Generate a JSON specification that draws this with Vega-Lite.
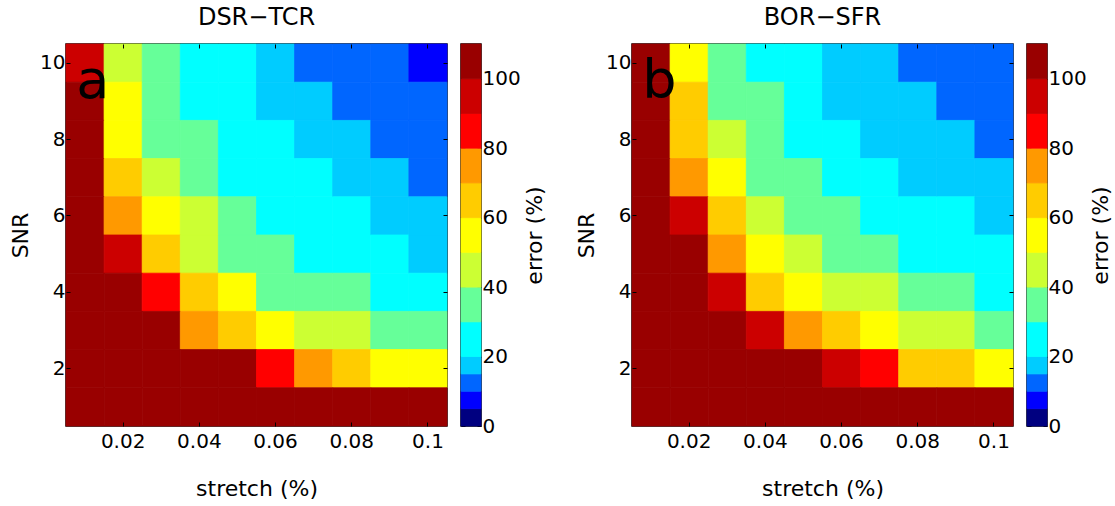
{
  "$schema": "https://vega.github.io/schema/vega-lite/v6.json",
  "background": "white",
  "padding": {"left": 8, "top": 4, "right": 5, "bottom": 5},
  "datasets": {
    "a": [
      {"stretch":0.01,"SNR":10,"error":95},{"stretch":0.02,"SNR":10,"error":45},{"stretch":0.03,"SNR":10,"error":35},{"stretch":0.04,"SNR":10,"error":25},{"stretch":0.05,"SNR":10,"error":25},{"stretch":0.06,"SNR":10,"error":17},{"stretch":0.07,"SNR":10,"error":12},{"stretch":0.08,"SNR":10,"error":12},{"stretch":0.09,"SNR":10,"error":12},{"stretch":0.1,"SNR":10,"error":7},
      {"stretch":0.01,"SNR":9,"error":105},{"stretch":0.02,"SNR":9,"error":55},{"stretch":0.03,"SNR":9,"error":35},{"stretch":0.04,"SNR":9,"error":25},{"stretch":0.05,"SNR":9,"error":25},{"stretch":0.06,"SNR":9,"error":17},{"stretch":0.07,"SNR":9,"error":17},{"stretch":0.08,"SNR":9,"error":12},{"stretch":0.09,"SNR":9,"error":12},{"stretch":0.1,"SNR":9,"error":12},
      {"stretch":0.01,"SNR":8,"error":105},{"stretch":0.02,"SNR":8,"error":55},{"stretch":0.03,"SNR":8,"error":35},{"stretch":0.04,"SNR":8,"error":35},{"stretch":0.05,"SNR":8,"error":25},{"stretch":0.06,"SNR":8,"error":25},{"stretch":0.07,"SNR":8,"error":17},{"stretch":0.08,"SNR":8,"error":17},{"stretch":0.09,"SNR":8,"error":12},{"stretch":0.1,"SNR":8,"error":12},
      {"stretch":0.01,"SNR":7,"error":105},{"stretch":0.02,"SNR":7,"error":65},{"stretch":0.03,"SNR":7,"error":45},{"stretch":0.04,"SNR":7,"error":35},{"stretch":0.05,"SNR":7,"error":25},{"stretch":0.06,"SNR":7,"error":25},{"stretch":0.07,"SNR":7,"error":25},{"stretch":0.08,"SNR":7,"error":17},{"stretch":0.09,"SNR":7,"error":17},{"stretch":0.1,"SNR":7,"error":12},
      {"stretch":0.01,"SNR":6,"error":105},{"stretch":0.02,"SNR":6,"error":75},{"stretch":0.03,"SNR":6,"error":55},{"stretch":0.04,"SNR":6,"error":45},{"stretch":0.05,"SNR":6,"error":35},{"stretch":0.06,"SNR":6,"error":25},{"stretch":0.07,"SNR":6,"error":25},{"stretch":0.08,"SNR":6,"error":25},{"stretch":0.09,"SNR":6,"error":17},{"stretch":0.1,"SNR":6,"error":17},
      {"stretch":0.01,"SNR":5,"error":105},{"stretch":0.02,"SNR":5,"error":95},{"stretch":0.03,"SNR":5,"error":65},{"stretch":0.04,"SNR":5,"error":45},{"stretch":0.05,"SNR":5,"error":35},{"stretch":0.06,"SNR":5,"error":35},{"stretch":0.07,"SNR":5,"error":25},{"stretch":0.08,"SNR":5,"error":25},{"stretch":0.09,"SNR":5,"error":25},{"stretch":0.1,"SNR":5,"error":17},
      {"stretch":0.01,"SNR":4,"error":105},{"stretch":0.02,"SNR":4,"error":105},{"stretch":0.03,"SNR":4,"error":85},{"stretch":0.04,"SNR":4,"error":65},{"stretch":0.05,"SNR":4,"error":55},{"stretch":0.06,"SNR":4,"error":35},{"stretch":0.07,"SNR":4,"error":35},{"stretch":0.08,"SNR":4,"error":35},{"stretch":0.09,"SNR":4,"error":25},{"stretch":0.1,"SNR":4,"error":25},
      {"stretch":0.01,"SNR":3,"error":105},{"stretch":0.02,"SNR":3,"error":105},{"stretch":0.03,"SNR":3,"error":105},{"stretch":0.04,"SNR":3,"error":75},{"stretch":0.05,"SNR":3,"error":65},{"stretch":0.06,"SNR":3,"error":55},{"stretch":0.07,"SNR":3,"error":45},{"stretch":0.08,"SNR":3,"error":45},{"stretch":0.09,"SNR":3,"error":35},{"stretch":0.1,"SNR":3,"error":35},
      {"stretch":0.01,"SNR":2,"error":105},{"stretch":0.02,"SNR":2,"error":105},{"stretch":0.03,"SNR":2,"error":105},{"stretch":0.04,"SNR":2,"error":105},{"stretch":0.05,"SNR":2,"error":105},{"stretch":0.06,"SNR":2,"error":85},{"stretch":0.07,"SNR":2,"error":75},{"stretch":0.08,"SNR":2,"error":65},{"stretch":0.09,"SNR":2,"error":55},{"stretch":0.1,"SNR":2,"error":55},
      {"stretch":0.01,"SNR":1,"error":105},{"stretch":0.02,"SNR":1,"error":105},{"stretch":0.03,"SNR":1,"error":105},{"stretch":0.04,"SNR":1,"error":105},{"stretch":0.05,"SNR":1,"error":105},{"stretch":0.06,"SNR":1,"error":105},{"stretch":0.07,"SNR":1,"error":105},{"stretch":0.08,"SNR":1,"error":105},{"stretch":0.09,"SNR":1,"error":105},{"stretch":0.1,"SNR":1,"error":105}
    ],
    "b": [
      {"stretch":0.01,"SNR":10,"error":105},{"stretch":0.02,"SNR":10,"error":55},{"stretch":0.03,"SNR":10,"error":35},{"stretch":0.04,"SNR":10,"error":25},{"stretch":0.05,"SNR":10,"error":25},{"stretch":0.06,"SNR":10,"error":17},{"stretch":0.07,"SNR":10,"error":17},{"stretch":0.08,"SNR":10,"error":12},{"stretch":0.09,"SNR":10,"error":12},{"stretch":0.1,"SNR":10,"error":12},
      {"stretch":0.01,"SNR":9,"error":105},{"stretch":0.02,"SNR":9,"error":65},{"stretch":0.03,"SNR":9,"error":35},{"stretch":0.04,"SNR":9,"error":35},{"stretch":0.05,"SNR":9,"error":25},{"stretch":0.06,"SNR":9,"error":17},{"stretch":0.07,"SNR":9,"error":17},{"stretch":0.08,"SNR":9,"error":17},{"stretch":0.09,"SNR":9,"error":12},{"stretch":0.1,"SNR":9,"error":12},
      {"stretch":0.01,"SNR":8,"error":105},{"stretch":0.02,"SNR":8,"error":65},{"stretch":0.03,"SNR":8,"error":45},{"stretch":0.04,"SNR":8,"error":35},{"stretch":0.05,"SNR":8,"error":25},{"stretch":0.06,"SNR":8,"error":25},{"stretch":0.07,"SNR":8,"error":17},{"stretch":0.08,"SNR":8,"error":17},{"stretch":0.09,"SNR":8,"error":17},{"stretch":0.1,"SNR":8,"error":12},
      {"stretch":0.01,"SNR":7,"error":105},{"stretch":0.02,"SNR":7,"error":75},{"stretch":0.03,"SNR":7,"error":55},{"stretch":0.04,"SNR":7,"error":35},{"stretch":0.05,"SNR":7,"error":35},{"stretch":0.06,"SNR":7,"error":25},{"stretch":0.07,"SNR":7,"error":25},{"stretch":0.08,"SNR":7,"error":17},{"stretch":0.09,"SNR":7,"error":17},{"stretch":0.1,"SNR":7,"error":17},
      {"stretch":0.01,"SNR":6,"error":105},{"stretch":0.02,"SNR":6,"error":95},{"stretch":0.03,"SNR":6,"error":65},{"stretch":0.04,"SNR":6,"error":45},{"stretch":0.05,"SNR":6,"error":35},{"stretch":0.06,"SNR":6,"error":35},{"stretch":0.07,"SNR":6,"error":25},{"stretch":0.08,"SNR":6,"error":25},{"stretch":0.09,"SNR":6,"error":25},{"stretch":0.1,"SNR":6,"error":17},
      {"stretch":0.01,"SNR":5,"error":105},{"stretch":0.02,"SNR":5,"error":105},{"stretch":0.03,"SNR":5,"error":75},{"stretch":0.04,"SNR":5,"error":55},{"stretch":0.05,"SNR":5,"error":45},{"stretch":0.06,"SNR":5,"error":35},{"stretch":0.07,"SNR":5,"error":35},{"stretch":0.08,"SNR":5,"error":25},{"stretch":0.09,"SNR":5,"error":25},{"stretch":0.1,"SNR":5,"error":25},
      {"stretch":0.01,"SNR":4,"error":105},{"stretch":0.02,"SNR":4,"error":105},{"stretch":0.03,"SNR":4,"error":95},{"stretch":0.04,"SNR":4,"error":65},{"stretch":0.05,"SNR":4,"error":55},{"stretch":0.06,"SNR":4,"error":45},{"stretch":0.07,"SNR":4,"error":45},{"stretch":0.08,"SNR":4,"error":35},{"stretch":0.09,"SNR":4,"error":35},{"stretch":0.1,"SNR":4,"error":25},
      {"stretch":0.01,"SNR":3,"error":105},{"stretch":0.02,"SNR":3,"error":105},{"stretch":0.03,"SNR":3,"error":105},{"stretch":0.04,"SNR":3,"error":95},{"stretch":0.05,"SNR":3,"error":75},{"stretch":0.06,"SNR":3,"error":65},{"stretch":0.07,"SNR":3,"error":55},{"stretch":0.08,"SNR":3,"error":45},{"stretch":0.09,"SNR":3,"error":45},{"stretch":0.1,"SNR":3,"error":35},
      {"stretch":0.01,"SNR":2,"error":105},{"stretch":0.02,"SNR":2,"error":105},{"stretch":0.03,"SNR":2,"error":105},{"stretch":0.04,"SNR":2,"error":105},{"stretch":0.05,"SNR":2,"error":105},{"stretch":0.06,"SNR":2,"error":95},{"stretch":0.07,"SNR":2,"error":85},{"stretch":0.08,"SNR":2,"error":65},{"stretch":0.09,"SNR":2,"error":65},{"stretch":0.1,"SNR":2,"error":55},
      {"stretch":0.01,"SNR":1,"error":105},{"stretch":0.02,"SNR":1,"error":105},{"stretch":0.03,"SNR":1,"error":105},{"stretch":0.04,"SNR":1,"error":105},{"stretch":0.05,"SNR":1,"error":105},{"stretch":0.06,"SNR":1,"error":105},{"stretch":0.07,"SNR":1,"error":105},{"stretch":0.08,"SNR":1,"error":105},{"stretch":0.09,"SNR":1,"error":105},{"stretch":0.1,"SNR":1,"error":105}
    ],
    "cb": [
      {"lo":0,"hi":5},{"lo":5,"hi":10},{"lo":10,"hi":15},{"lo":15,"hi":20},{"lo":20,"hi":30},{"lo":30,"hi":40},{"lo":40,"hi":50},{"lo":50,"hi":60},{"lo":60,"hi":70},{"lo":70,"hi":80},{"lo":80,"hi":90},{"lo":90,"hi":100},{"lo":100,"hi":110}
    ]
  },
  "spacing": 28,
  "hconcat": [
    {
      "spacing": 14,
      "bounds": "flush",
      "hconcat": [
        {
          "width": 381, "height": 382,
          "title": {"text": "DSR\u2212TCR"},
          "layer": [
            {
              "data": {"name": "a"},
              "mark": {"type": "rect", "strokeWidth": 0.8},
              "encoding": {
                "x": {"field": "stretch", "type": "ordinal", "scale": {"paddingInner": 0, "paddingOuter": 0}, "axis": {"values": [0.02,0.04,0.06,0.08,0.1], "title": "stretch (%)", "labelAngle": 0, "orient": "bottom"}},
                "y": {"field": "SNR", "type": "ordinal", "sort": "descending", "scale": {"paddingInner": 0, "paddingOuter": 0}, "axis": {"values": [2,4,6,8,10], "title": "SNR", "orient": "left"}},
                "color": {"field": "error", "type": "quantitative", "scale": {"type": "threshold", "domain": [5,10,15,20,30,40,50,60,70,80,90,100], "range": ["#000080","#0000ff","#0066ff","#00ccff","#00ffff","#66ff99","#ccff33","#ffff00","#ffcc00","#ff9900","#ff0000","#cc0000","#990000"]}, "legend": null},
                "stroke": {"field": "error", "type": "quantitative", "scale": {"type": "threshold", "domain": [5,10,15,20,30,40,50,60,70,80,90,100], "range": ["#000080","#0000ff","#0066ff","#00ccff","#00ffff","#66ff99","#ccff33","#ffff00","#ffcc00","#ff9900","#ff0000","#cc0000","#990000"]}, "legend": null}
              }
            },
            {
              "data": {"name": "a"},
              "mark": {"type": "rect", "opacity": 0},
              "encoding": {
                "x": {"field": "stretch", "type": "ordinal", "axis": {"values": [0.02,0.04,0.06,0.08,0.1], "title": null, "labels": false, "orient": "top"}},
                "y": {"field": "SNR", "type": "ordinal", "sort": "descending", "axis": {"values": [2,4,6,8,10], "title": null, "labels": false, "orient": "right"}}
              }
            },
            {
              "data": {"values": [{"stretch": 0.01, "SNR": 10, "label": "a"}]},
              "mark": {"type": "text", "align": "left", "baseline": "middle", "fontSize": 54, "color": "black"},
              "encoding": {
                "x": {"field": "stretch", "type": "ordinal", "bandPosition": 0.27, "axis": null},
                "y": {"field": "SNR", "type": "ordinal", "sort": "descending", "bandPosition": 1, "axis": null},
                "text": {"field": "label"}
              }
            }
          ],
          "resolve": {"axis": {"x": "independent", "y": "independent"}}
        },
        {
          "width": 20, "height": 382,
          "data": {"name": "cb"},
          "layer": [
            {
              "mark": {"type": "rect", "strokeWidth": 0.8},
              "encoding": {
                "x": {"datum": 0, "type": "quantitative", "scale": {"domain": [0, 1], "nice": false}, "axis": null},
                "x2": {"datum": 1},
                "y": {"field": "lo", "type": "quantitative", "scale": {"domain": [0,110], "nice": false, "zero": false}, "axis": {"orient": "right", "values": [0,20,40,60,80,100], "title": "error (%)", "titleAngle": 270, "titlePadding": 26}},
                "y2": {"field": "hi"},
                "color": {"field": "lo", "type": "quantitative", "scale": {"type": "threshold", "domain": [5,10,15,20,30,40,50,60,70,80,90,100], "range": ["#000080","#0000ff","#0066ff","#00ccff","#00ffff","#66ff99","#ccff33","#ffff00","#ffcc00","#ff9900","#ff0000","#cc0000","#990000"]}, "legend": null},
                "stroke": {"field": "lo", "type": "quantitative", "scale": {"type": "threshold", "domain": [5,10,15,20,30,40,50,60,70,80,90,100], "range": ["#000080","#0000ff","#0066ff","#00ccff","#00ffff","#66ff99","#ccff33","#ffff00","#ffcc00","#ff9900","#ff0000","#cc0000","#990000"]}, "legend": null}
              }
            },
            {
              "mark": {"type": "rect", "opacity": 0},
              "encoding": {
                "x": {"datum": 0, "type": "quantitative", "axis": null},
                "x2": {"datum": 1},
                "y": {"field": "lo", "type": "quantitative", "axis": {"orient": "left", "values": [0,20,40,60,80,100], "labels": false, "title": null}},
                "y2": {"field": "hi"}
              }
            }
          ],
          "resolve": {"axis": {"y": "independent"}}
        }
      ]
    },
    {
      "spacing": 14,
      "bounds": "flush",
      "hconcat": [
        {
          "width": 381, "height": 382,
          "title": {"text": "BOR\u2212SFR"},
          "layer": [
            {
              "data": {"name": "b"},
              "mark": {"type": "rect", "strokeWidth": 0.8},
              "encoding": {
                "x": {"field": "stretch", "type": "ordinal", "scale": {"paddingInner": 0, "paddingOuter": 0}, "axis": {"values": [0.02,0.04,0.06,0.08,0.1], "title": "stretch (%)", "labelAngle": 0, "orient": "bottom"}},
                "y": {"field": "SNR", "type": "ordinal", "sort": "descending", "scale": {"paddingInner": 0, "paddingOuter": 0}, "axis": {"values": [2,4,6,8,10], "title": "SNR", "orient": "left"}},
                "color": {"field": "error", "type": "quantitative", "scale": {"type": "threshold", "domain": [5,10,15,20,30,40,50,60,70,80,90,100], "range": ["#000080","#0000ff","#0066ff","#00ccff","#00ffff","#66ff99","#ccff33","#ffff00","#ffcc00","#ff9900","#ff0000","#cc0000","#990000"]}, "legend": null},
                "stroke": {"field": "error", "type": "quantitative", "scale": {"type": "threshold", "domain": [5,10,15,20,30,40,50,60,70,80,90,100], "range": ["#000080","#0000ff","#0066ff","#00ccff","#00ffff","#66ff99","#ccff33","#ffff00","#ffcc00","#ff9900","#ff0000","#cc0000","#990000"]}, "legend": null}
              }
            },
            {
              "data": {"name": "b"},
              "mark": {"type": "rect", "opacity": 0},
              "encoding": {
                "x": {"field": "stretch", "type": "ordinal", "axis": {"values": [0.02,0.04,0.06,0.08,0.1], "title": null, "labels": false, "orient": "top"}},
                "y": {"field": "SNR", "type": "ordinal", "sort": "descending", "axis": {"values": [2,4,6,8,10], "title": null, "labels": false, "orient": "right"}}
              }
            },
            {
              "data": {"values": [{"stretch": 0.01, "SNR": 10, "label": "b"}]},
              "mark": {"type": "text", "align": "left", "baseline": "middle", "fontSize": 54, "color": "black"},
              "encoding": {
                "x": {"field": "stretch", "type": "ordinal", "bandPosition": 0.27, "axis": null},
                "y": {"field": "SNR", "type": "ordinal", "sort": "descending", "bandPosition": 1, "axis": null},
                "text": {"field": "label"}
              }
            }
          ],
          "resolve": {"axis": {"x": "independent", "y": "independent"}}
        },
        {
          "width": 20, "height": 382,
          "data": {"name": "cb"},
          "layer": [
            {
              "mark": {"type": "rect", "strokeWidth": 0.8},
              "encoding": {
                "x": {"datum": 0, "type": "quantitative", "scale": {"domain": [0, 1], "nice": false}, "axis": null},
                "x2": {"datum": 1},
                "y": {"field": "lo", "type": "quantitative", "scale": {"domain": [0,110], "nice": false, "zero": false}, "axis": {"orient": "right", "values": [0,20,40,60,80,100], "title": "error (%)", "titleAngle": 270, "titlePadding": 26}},
                "y2": {"field": "hi"},
                "color": {"field": "lo", "type": "quantitative", "scale": {"type": "threshold", "domain": [5,10,15,20,30,40,50,60,70,80,90,100], "range": ["#000080","#0000ff","#0066ff","#00ccff","#00ffff","#66ff99","#ccff33","#ffff00","#ffcc00","#ff9900","#ff0000","#cc0000","#990000"]}, "legend": null},
                "stroke": {"field": "lo", "type": "quantitative", "scale": {"type": "threshold", "domain": [5,10,15,20,30,40,50,60,70,80,90,100], "range": ["#000080","#0000ff","#0066ff","#00ccff","#00ffff","#66ff99","#ccff33","#ffff00","#ffcc00","#ff9900","#ff0000","#cc0000","#990000"]}, "legend": null}
              }
            },
            {
              "mark": {"type": "rect", "opacity": 0},
              "encoding": {
                "x": {"datum": 0, "type": "quantitative", "axis": null},
                "x2": {"datum": 1},
                "y": {"field": "lo", "type": "quantitative", "axis": {"orient": "left", "values": [0,20,40,60,80,100], "labels": false, "title": null}},
                "y2": {"field": "hi"}
              }
            }
          ],
          "resolve": {"axis": {"y": "independent"}}
        }
      ]
    }
  ],
  "config": {
    "font": "DejaVu Sans",
    "view": {"stroke": "black", "strokeWidth": 1.5},
    "axis": {
      "grid": false,
      "domain": false,
      "ticks": true,
      "tickColor": "black",
      "tickSize": -4,
      "tickWidth": 1,
      "labelFontSize": 20,
      "labelColor": "black",
      "titleFontSize": 22,
      "titleFontWeight": "normal",
      "titleColor": "black"
    },
    "axisX": {"labelPadding": 9, "titlePadding": 27},
    "axisY": {"labelPadding": 5, "titlePadding": 7},
    "title": {"fontSize": 24, "fontWeight": "normal", "color": "black", "offset": 14}
  }
}
